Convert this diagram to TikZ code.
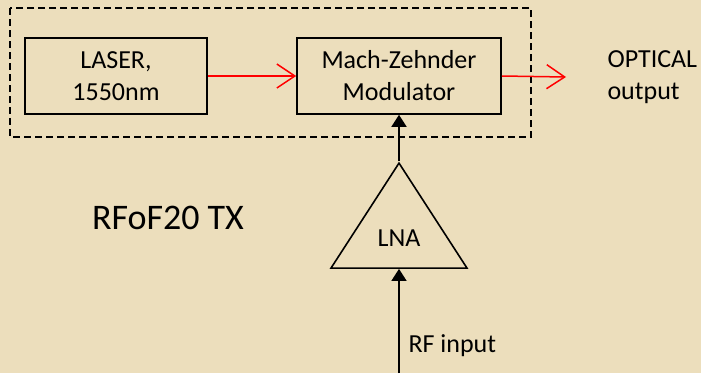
\documentclass[tikz,border=0pt]{standalone}
\usepackage{fontspec}
\setmainfont{Carlito}
\usetikzlibrary{arrows.meta,shapes.geometric}
\definecolor{parchment}{RGB}{236,222,188}
\definecolor{optred}{RGB}{255,0,0}
\begin{document}
\begin{tikzpicture}[x=1pt,y=-1pt,
  block/.style={draw,line width=1.6pt,minimum height=76pt,align=center,
    font=\fontsize{26}{32}\selectfont},
  label/.style={font=\fontsize{26}{32}\selectfont,align=left},
  rfarrow/.style={draw=optred,line width=1.5pt,-{Straight Barb[length=18pt,width=24pt]}},
  sigarrow/.style={draw,line width=1.6pt,-{Triangle[length=12pt,width=15pt]}}]
  \useasboundingbox[fill=parchment] (0,0) rectangle (701,373);
  % transmitter box
  \draw[line width=1.6pt,dash pattern=on 7pt off 4pt] (10,8) rectangle (531,137);
  \node[block,minimum width=182pt] (laser) at (116,76) {LASER,\\1550nm};
  \node[block,minimum width=204pt] (mzm) at (399,76) {Mach-Zehnder\\Modulator};
  \coordinate (out) at (566,77);
  \node[label,anchor=west] (optical) at (604,77) {OPTICAL\\output};
  \node[font=\fontsize{36}{40}\selectfont] (txname) at (168,218) {RFoF20 TX};
  % amplifier
  \node[draw,line width=1.6pt,isosceles triangle,shape border rotate=90,
    isosceles triangle stretches,minimum width=136pt,minimum height=105pt,
    inner sep=0pt,anchor=apex] (lna) at (399,161) {};
  \node[font=\fontsize{26}{32}\selectfont] (lnatext) at (399,238) {LNA};
  \coordinate (rfin) at (399,373);
  \node[label,anchor=west] (rftext) at (405,346) {RF input};
  % connectors
  \draw[rfarrow] (laser.east) -- (mzm.west);
  \draw[rfarrow] (mzm.east) -- (out);
  \draw[sigarrow] (lna.apex) -- (mzm.south);
  \draw[sigarrow] (rfin) -- (lna.south);
\end{tikzpicture}
\end{document}
